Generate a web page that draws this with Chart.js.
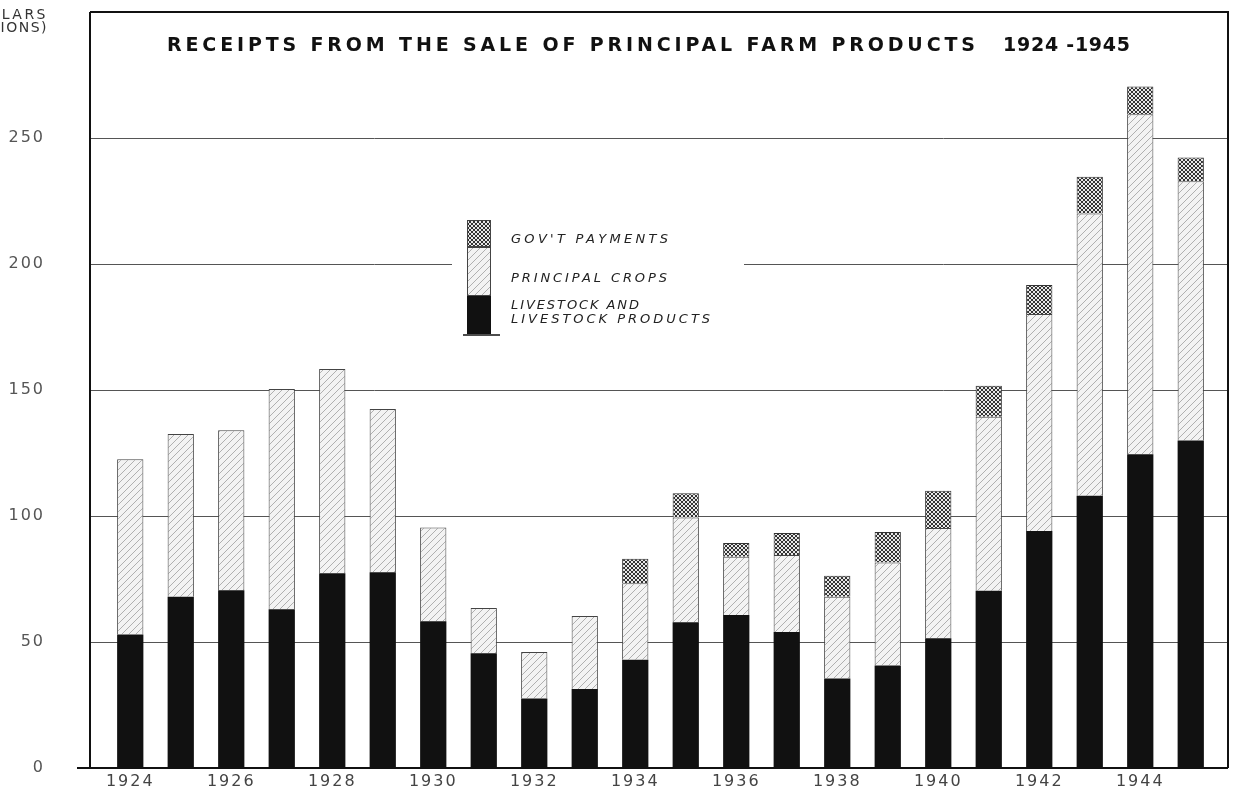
<!DOCTYPE html>
<html>
<head>
<meta charset="utf-8">
<script src="https://cdn.jsdelivr.net/npm/chart.js@4/dist/chart.umd.min.js"></script>
<style>
  html, body { margin: 0; padding: 0; background: #ffffff; }
  #wrap { width: 1235px; height: 794px; }
  canvas { display: block; width: 1235px; height: 794px; }
</style>
</head>
<body>
<div id="wrap"><canvas id="c" width="1235" height="794"></canvas></div>
<script>
// ---- DATA (millions of dollars) ----
const years = ['1924','1925','1926','1927','1928','1929','1930','1931','1932','1933','1934',
               '1935','1936','1937','1938','1939','1940','1941','1942','1943','1944','1945'];
const livestock = [53, 68, 70.5, 63, 77.3, 77.7, 58.2, 45.5, 27.6, 31.3, 43,
                   57.8, 60.7, 54, 35.5, 40.7, 51.5, 70.3, 94, 108, 124.5, 130];
const crops = [69.5, 64.5, 63.5, 87.4, 81, 64.8, 37.2, 18, 18.4, 29, 30.3,
               41.6, 23.1, 30.5, 32.5, 40.8, 43.7, 69.1, 86.2, 112, 134.9, 102.8];
const govPayments = [0, 0, 0, 0, 0, 0, 0, 0, 0, 0, 9.7,
                     9.6, 5.5, 8.8, 8.3, 12.2, 14.8, 12.3, 11.5, 14.6, 11, 9.5];
const yTickValues = [0, 50, 100, 150, 200, 250];
const seriesLabels = ["LIVESTOCK AND LIVESTOCK PRODUCTS", "PRINCIPAL CROPS", "GOV'T PAYMENTS"];
const titleMain = 'RECEIPTS FROM THE SALE OF PRINCIPAL FARM PRODUCTS';
const titleYears = '1924 -1945';
const yAxisTitle = ['DOLLARS', '(MILLIONS)'];

// ---- patterns ----
function makePattern(kind) {
  const t = document.createElement('canvas');
  const s = kind === 'cross' ? 4 : 7;
  t.width = s; t.height = s;
  const g = t.getContext('2d');
  if (kind === 'cross') {
    g.fillStyle = '#e8e8e8'; g.fillRect(0, 0, s, s);
    g.strokeStyle = '#333'; g.lineWidth = 1;
    g.beginPath();
    g.moveTo(0, 0); g.lineTo(s, s);
    g.moveTo(0, s); g.lineTo(s, 0);
    g.stroke();
  } else {
    g.fillStyle = '#f3f3f3'; g.fillRect(0, 0, s, s);
    g.strokeStyle = '#b0b0b0'; g.lineWidth = 1;
    g.beginPath();
    g.moveTo(-1, s + 1); g.lineTo(s + 1, -1);
    g.stroke();
  }
  return g.createPattern(t, 'repeat');
}
const ctx0 = document.getElementById('c').getContext('2d');
const cropFill = makePattern('hatch');
const govFill = makePattern('cross');

function spacedText(ctx, text, x, y, width) {
  ctx.letterSpacing = '0px';
  const w = ctx.measureText(text).width;
  const sp = Math.max(0, (width - w) / (text.length - 1));
  ctx.letterSpacing = sp.toFixed(2) + 'px';
  ctx.textAlign = 'left';
  ctx.fillText(text, x, y);
  ctx.letterSpacing = '0px';
}

const FRAME = { left: 90, right: 1228 };

const decor = {
  id: 'decor',
  beforeDraw(chart) {
    const ctx = chart.ctx;
    ctx.save();
    ctx.fillStyle = '#fff';
    ctx.fillRect(0, 0, chart.width, chart.height);
    ctx.restore();
    ctx.letterSpacing = '2px';
  },
  beforeDatasetsDraw(chart) {
    const ctx = chart.ctx;
    const y = chart.scales.y;
    ctx.save();
    ctx.strokeStyle = '#555';
    ctx.lineWidth = 1;
    yTickValues.forEach(v => {
      if (v === 0) return;
      const py = Math.round(y.getPixelForValue(v)) + 0.5;
      ctx.beginPath();
      ctx.moveTo(FRAME.left, py); ctx.lineTo(FRAME.right, py);
      ctx.stroke();
    });
    ctx.fillStyle = '#fff';
    ctx.fillRect(452, 212, 292, 128);
    ctx.restore();
  },
  afterDraw(chart) {
    const ctx = chart.ctx;
    const y = chart.scales.y;
    const base = y.getPixelForValue(0);
    const top = y.getPixelForValue(300);
    ctx.save();
    ctx.strokeStyle = '#111';
    ctx.lineWidth = 2;
    ctx.beginPath();
    ctx.moveTo(FRAME.left, top); ctx.lineTo(FRAME.right, top);
    ctx.lineTo(FRAME.right, base);
    ctx.moveTo(77, base); ctx.lineTo(FRAME.right, base);
    ctx.moveTo(FRAME.left, top); ctx.lineTo(FRAME.left, base);
    ctx.stroke();

    // title
    ctx.fillStyle = '#111';
    ctx.font = 'bold 19px "DejaVu Sans", sans-serif';
    ctx.textBaseline = 'middle';
    spacedText(ctx, titleMain, 167, 46, 808);
    spacedText(ctx, titleYears, 1003, 46, 127);

    // y axis title (partly off the left edge, as in the original)
    ctx.font = '14px "DejaVu Sans", sans-serif';
    ctx.fillStyle = '#333';
    ctx.textAlign = 'right';
    ctx.letterSpacing = '2.5px';
    ctx.fillText(yAxisTitle[0], 48, 15);
    ctx.letterSpacing = '1.5px';
    ctx.fillText(yAxisTitle[1], 48, 28);
    ctx.letterSpacing = '0px';

    // legend
    const lx = 467, lw = 24;
    const boxes = [
      { fill: govFill, y0: 220, y1: 247, border: true },
      { fill: cropFill, y0: 247, y1: 296, border: true },
      { fill: '#111', y0: 296, y1: 334, border: false }
    ];
    boxes.forEach(b => {
      ctx.fillStyle = b.fill;
      ctx.fillRect(lx, b.y0, lw, b.y1 - b.y0);
      if (b.border) {
        ctx.strokeStyle = '#444'; ctx.lineWidth = 1;
        ctx.strokeRect(lx + 0.5, b.y0 + 0.5, lw - 1, b.y1 - b.y0 - 1);
      }
    });
    ctx.strokeStyle = '#111'; ctx.lineWidth = 1.5;
    ctx.beginPath(); ctx.moveTo(463, 335); ctx.lineTo(500, 335); ctx.stroke();

    ctx.fillStyle = '#222';
    ctx.font = 'italic 13px "DejaVu Sans", sans-serif';
    ctx.textBaseline = 'middle';
    spacedText(ctx, seriesLabels[2], 511, 240, 157);
    spacedText(ctx, seriesLabels[1], 511, 279, 156);
    spacedText(ctx, 'LIVESTOCK AND', 511, 306, 128);
    spacedText(ctx, 'LIVESTOCK PRODUCTS', 511, 320, 199);
    ctx.restore();
  }
};

new Chart(ctx0, {
  type: 'bar',
  data: {
    labels: years,
    datasets: [
      { label: seriesLabels[0], data: livestock, backgroundColor: '#111', borderWidth: 0 },
      { label: seriesLabels[1], data: crops, backgroundColor: cropFill, borderColor: '#444', borderWidth: 1 },
      { label: seriesLabels[2], data: govPayments, backgroundColor: govFill, borderColor: '#333', borderWidth: 1 }
    ]
  },
  options: {
    responsive: false,
    maintainAspectRatio: false,
    animation: false,
    devicePixelRatio: 1,
    layout: { padding: { left: 0, right: 19, top: 12, bottom: 0 } },
    plugins: { legend: { display: false }, tooltip: { enabled: false }, title: { display: false } },
    datasets: { bar: { categoryPercentage: 1, barPercentage: 0.52 } },
    scales: {
      x: {
        stacked: true,
        grid: { display: false, drawTicks: false },
        border: { display: false },
        afterFit(s) { s.height = 26; s.paddingLeft = 0; s.paddingRight = 0; },
        ticks: {
          autoSkip: false, maxRotation: 0, padding: 4,
          color: '#444',
          font: { family: '"DejaVu Sans", sans-serif', size: 16 },
          callback(v, i) { return i % 2 === 0 ? years[i] : ''; }
        }
      },
      y: {
        stacked: true,
        min: 0, max: 300,
        grid: { display: false, drawTicks: false },
        border: { display: false },
        afterFit(s) { s.width = 105; s.paddingTop = 0; s.paddingBottom = 0; },
        afterBuildTicks(s) { s.ticks = yTickValues.map(v => ({ value: v })); },
        ticks: {
          padding: 60,
          color: '#555',
          font: { family: '"DejaVu Sans", sans-serif', size: 16 },
          callback(v) { return String(v); }
        }
      }
    }
  },
  plugins: [decor]
});
</script>
</body>
</html>
